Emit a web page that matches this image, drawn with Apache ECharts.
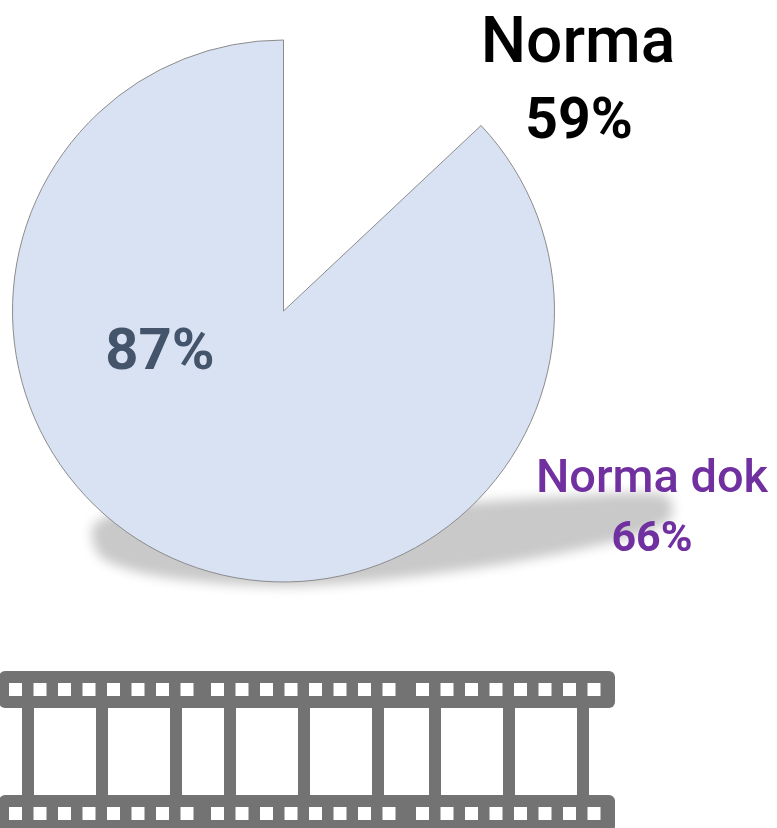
<!DOCTYPE html>
<html>
<head>
<meta charset="utf-8">
<style>
  html, body { margin: 0; padding: 0; background: #fff; }
  #main { width: 777px; height: 828px; }
</style>
<script src="https://cdn.jsdelivr.net/npm/echarts@6/dist/echarts.min.js"></script>
</head>
<body>
<div id="main"></div>
<script>
// pie: the gap first, so that it sits right after 12 o'clock
var sliceNames = ['', 'Wykonanie'];
var sliceValues = [13, 87];
var normaLabel = ['Norma', '59%'];
var normaDokLabel = ['Norma dok', '66%'];

var FONT = 'Roboto, sans-serif';
var FILM = '#737373';

// film strip decoration, one frame group per start offset
var segmentStarts = [-1, 201, 406];
var bandTops = [671, 795];

function filmStrip() {
  var els = [];
  bandTops.forEach(function (top) {
    els.push({ type: 'rect', z: 1, shape: { x: -1, y: top, width: 616, height: 37, r: 6 }, style: { fill: FILM } });
  });
  segmentStarts.forEach(function (start) {
    bandTops.forEach(function (top) {
      for (var i = 0; i < 8; i++) {
        els.push({
          type: 'rect', z: 2,
          shape: { x: start + 10 + i * 24.5, y: top + 12, width: 13, height: 13 },
          style: { fill: '#fff' }
        });
      }
    });
    for (var j = 0; j < 3; j++) {
      els.push({
        type: 'rect', z: 1,
        shape: { x: start + 23 + j * 74, y: 700, width: 12, height: 100 },
        style: { fill: FILM }
      });
    }
  });
  return els;
}

// baseline is given, text is placed from its top
function textEl(str, x, baseline, size, color, weight) {
  return {
    type: 'text', z: 20, x: x, y: baseline - Math.round(size * 0.755),
    style: { text: str, font: weight + ' ' + size + 'px ' + FONT, fill: color, align: 'center', verticalAlign: 'top' }
  };
}

var option = {
  animation: false,
  backgroundColor: '#fff',
  graphic: {
    elements: [
      // only the blurred shadow of this shape lands on the canvas
      {
        type: 'polygon', z: 0, x: -1000,
        shape: {
          smooth: 0.3,
          points: [[94, 525], [170, 495], [400, 505], [560, 497], [666, 495], [670, 520], [612, 542], [470, 569], [300, 586], [170, 578], [102, 558]]
        },
        style: { fill: '#c9c9c9', shadowBlur: 12, shadowColor: '#c9c9c9', shadowOffsetX: 1000 }
      },
      textEl(normaLabel[0], 578, 62, 64, '#000', 500),
      textEl(normaLabel[1], 579, 138, 57, '#000', 700),
      textEl(normaDokLabel[0], 652, 492, 47, '#7030a0', 500),
      textEl(normaDokLabel[1], 652, 551, 43, '#7030a0', 700)
    ].concat(filmStrip())
  },
  series: [
    {
      type: 'pie',
      z: 5,
      center: [283.5, 311],
      radius: [0, 271],
      startAngle: 90,
      clockwise: true,
      silent: true,
      data: [
        {
          name: sliceNames[0], value: sliceValues[0],
          itemStyle: { color: 'transparent', borderWidth: 0 },
          label: { show: false }, labelLine: { show: false }
        },
        {
          name: sliceNames[1], value: sliceValues[1],
          itemStyle: { color: '#d9e2f3', borderColor: '#8c8c8c', borderWidth: 1 },
          label: {
            show: true, position: 'inside', formatter: '{c}%',
            fontFamily: 'Roboto', fontWeight: 700, fontSize: 58, color: '#44546a'
          }
        }
      ],
      labelLayout: function (params) {
        if (params.dataIndex === 1) return { x: 160, y: 354, align: 'center', verticalAlign: 'middle' };
      }
    }
  ]
};

var myChart = echarts.init(document.getElementById('main'));
myChart.setOption(option);
</script>
</body>
</html>
